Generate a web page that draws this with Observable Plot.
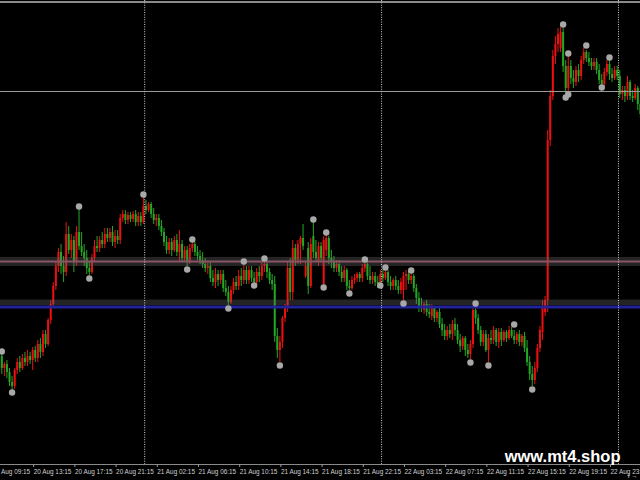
<!DOCTYPE html>
<html><head><meta charset="utf-8">
<script src="https://cdn.jsdelivr.net/npm/d3@7"></script>
<script src="https://cdn.jsdelivr.net/npm/@observablehq/plot@0.6"></script>
<style>html,body{margin:0;padding:0;background:#000;overflow:hidden}#chart svg{display:block}</style>
</head><body><div id="chart"></div>
<script>
// M15 candles, bar index 0..248
const open = [
1.1444,1.1432,1.1436,1.1428,1.1418,1.1414,1.1430,1.1438,1.1432,1.1442,
1.1438,1.1444,1.1440,1.1450,1.1442,1.1456,1.1448,1.1466,1.1456,1.1480,
1.1496,1.1514,1.1534,1.1548,1.1534,1.1528,1.1566,1.1550,1.1560,1.1538,
1.1568,1.1554,1.1548,1.1542,1.1532,1.1528,1.1542,1.1554,1.1552,1.1560,
1.1556,1.1566,1.1562,1.1568,1.1558,1.1564,1.1560,1.1582,1.1586,1.1580,
1.1585,1.1581,1.1586,1.1578,1.1584,1.1578,1.1594,1.1590,1.1596,1.1586,
1.1580,1.1582,1.1574,1.1568,1.1558,1.1550,1.1558,1.1550,1.1560,1.1548,
1.1556,1.1542,1.1550,1.1538,1.1552,1.1556,1.1548,1.1544,1.1540,1.1536,
1.1532,1.1534,1.1522,1.1518,1.1526,1.1520,1.1526,1.1512,1.1508,1.1498,
1.1510,1.1518,1.1514,1.1524,1.1520,1.1530,1.1520,1.1530,1.1522,1.1518,
1.1528,1.1524,1.1534,1.1536,1.1528,1.1520,1.1516,1.1464,1.1450,1.1458,
1.1482,1.1492,1.1532,1.1508,1.1552,1.1540,1.1556,1.1562,1.1524,1.1552,
1.1514,1.1564,1.1548,1.1538,1.1554,1.1516,1.1550,1.1562,1.1542,1.1538,
1.1532,1.1536,1.1528,1.1522,1.1530,1.1514,1.1512,1.1520,1.1522,1.1526,
1.1522,1.1532,1.1536,1.1524,1.1520,1.1524,1.1518,1.1516,1.1526,1.1522,
1.1528,1.1518,1.1514,1.1520,1.1514,1.1510,1.1510,1.1524,1.1526,1.1520,
1.1524,1.1512,1.1502,1.1494,1.1490,1.1496,1.1488,1.1484,1.1492,1.1482,
1.1488,1.1476,1.1470,1.1464,1.1470,1.1466,1.1476,1.1470,1.1460,1.1454,
1.1462,1.1450,1.1446,1.1456,1.1490,1.1482,1.1470,1.1458,1.1466,1.1450,
1.1462,1.1460,1.1470,1.1458,1.1468,1.1460,1.1468,1.1462,1.1470,1.1464,
1.1460,1.1466,1.1458,1.1464,1.1452,1.1438,1.1426,1.1420,1.1432,1.1452,
1.1468,1.1488,1.1500,1.1660,1.1704,1.1744,1.1756,1.1752,1.1768,1.1734,
1.1712,1.1734,1.1722,1.1718,1.1730,1.1724,1.1740,1.1748,1.1742,1.1738,
1.1734,1.1738,1.1730,1.1720,1.1716,1.1728,1.1736,1.1726,1.1722,1.1730,
1.1724,1.1706,1.1710,1.1704,1.1718,1.1704,1.1702,1.1712,1.1696];
const high = [
1.1447,1.1438,1.1440,1.1432,1.1424,1.1432,1.1442,1.1444,1.1446,1.1448,
1.1450,1.1448,1.1453,1.1454,1.1460,1.1462,1.1470,1.1470,1.1482,1.1500,
1.1518,1.1538,1.1552,1.1556,1.1544,1.1578,1.1574,1.1566,1.1564,1.1574,
1.1591,1.1568,1.1556,1.1550,1.1538,1.1546,1.1560,1.1564,1.1564,1.1568,
1.1572,1.1572,1.1572,1.1574,1.1570,1.1570,1.1586,1.1590,1.1590,1.1588,
1.1588,1.1589,1.1590,1.1588,1.1588,1.1603,1.1600,1.1598,1.1598,1.1592,
1.1586,1.1586,1.1580,1.1572,1.1564,1.1562,1.1562,1.1564,1.1566,1.1570,
1.1560,1.1554,1.1554,1.1556,1.1559,1.1558,1.1554,1.1550,1.1548,1.1542,
1.1538,1.1538,1.1530,1.1532,1.1530,1.1530,1.1530,1.1520,1.1514,1.1514,
1.1522,1.1524,1.1530,1.1532,1.1536,1.1534,1.1534,1.1534,1.1528,1.1532,
1.1534,1.1538,1.1540,1.1540,1.1532,1.1526,1.1524,1.1472,1.1464,1.1484,
1.1496,1.1538,1.1542,1.1560,1.1556,1.1560,1.1564,1.1576,1.1538,1.1558,
1.1562,1.1579,1.1560,1.1558,1.1558,1.1564,1.1566,1.1564,1.1550,1.1544,
1.1540,1.1540,1.1534,1.1534,1.1532,1.1520,1.1524,1.1526,1.1528,1.1528,
1.1536,1.1538,1.1538,1.1534,1.1528,1.1528,1.1524,1.1530,1.1530,1.1532,
1.1530,1.1524,1.1522,1.1524,1.1520,1.1522,1.1528,1.1530,1.1530,1.1527,
1.1526,1.1516,1.1508,1.1502,1.1498,1.1500,1.1496,1.1496,1.1494,1.1490,
1.1492,1.1482,1.1476,1.1474,1.1476,1.1480,1.1482,1.1476,1.1466,1.1464,
1.1464,1.1456,1.1460,1.1494,1.1495,1.1486,1.1474,1.1470,1.1470,1.1466,
1.1470,1.1474,1.1472,1.1472,1.1472,1.1470,1.1470,1.1474,1.1473,1.1470,
1.1468,1.1470,1.1466,1.1468,1.1460,1.1444,1.1434,1.1438,1.1456,1.1474,
1.1500,1.1504,1.1670,1.1710,1.1750,1.1764,1.1772,1.1773,1.1772,1.1740,
1.1744,1.1740,1.1730,1.1734,1.1736,1.1744,1.1752,1.1750,1.1748,1.1742,
1.1742,1.1742,1.1736,1.1726,1.1732,1.1740,1.1742,1.1732,1.1734,1.1734,
1.1730,1.1714,1.1714,1.1724,1.1720,1.1710,1.1716,1.1714,1.1702];
const low = [
1.1426,1.1424,1.1422,1.1414,1.1410,1.1411,1.1426,1.1428,1.1430,1.1434,
1.1434,1.1436,1.1430,1.1438,1.1438,1.1442,1.1444,1.1452,1.1454,1.1476,
1.1492,1.1510,1.1528,1.1526,1.1518,1.1524,1.1546,1.1542,1.1528,1.1534,
1.1550,1.1544,1.1534,1.1526,1.1525,1.1526,1.1538,1.1548,1.1548,1.1552,
1.1552,1.1558,1.1558,1.1554,1.1552,1.1556,1.1556,1.1578,1.1576,1.1576,
1.1578,1.1578,1.1574,1.1574,1.1574,1.1576,1.1586,1.1588,1.1582,1.1576,
1.1574,1.1570,1.1564,1.1554,1.1546,1.1546,1.1544,1.1548,1.1544,1.1538,
1.1538,1.1538,1.1534,1.1536,1.1548,1.1544,1.1540,1.1536,1.1532,1.1528,
1.1526,1.1518,1.1514,1.1512,1.1514,1.1516,1.1508,1.1504,1.1495,1.1496,
1.1506,1.1510,1.1510,1.1514,1.1516,1.1516,1.1516,1.1518,1.1517,1.1516,
1.1518,1.1520,1.1528,1.1522,1.1516,1.1510,1.1458,1.1442,1.1438,1.1452,
1.1478,1.1488,1.1500,1.1500,1.1534,1.1536,1.1536,1.1550,1.1522,1.1506,
1.1512,1.1542,1.1538,1.1534,1.1538,1.1513,1.1544,1.1536,1.1532,1.1528,
1.1528,1.1524,1.1518,1.1518,1.1510,1.1510,1.1510,1.1516,1.1518,1.1518,
1.1518,1.1528,1.1520,1.1516,1.1516,1.1514,1.1512,1.1514,1.1518,1.1520,
1.1514,1.1510,1.1510,1.1510,1.1506,1.1506,1.1500,1.1510,1.1516,1.1516,
1.1508,1.1496,1.1488,1.1488,1.1486,1.1484,1.1482,1.1480,1.1478,1.1478,
1.1472,1.1464,1.1460,1.1460,1.1462,1.1460,1.1464,1.1456,1.1448,1.1450,
1.1444,1.1442,1.1441,1.1452,1.1476,1.1466,1.1454,1.1454,1.1448,1.1438,
1.1456,1.1456,1.1454,1.1452,1.1454,1.1458,1.1458,1.1460,1.1462,1.1456,
1.1456,1.1454,1.1454,1.1448,1.1434,1.1420,1.1414,1.1416,1.1428,1.1448,
1.1460,1.1484,1.1488,1.1654,1.1700,1.1736,1.1748,1.1748,1.1728,1.1705,
1.1708,1.1716,1.1712,1.1714,1.1718,1.1720,1.1736,1.1738,1.1734,1.1730,
1.1730,1.1726,1.1716,1.1714,1.1714,1.1724,1.1720,1.1718,1.1720,1.1720,
1.1702,1.1700,1.1698,1.1700,1.1700,1.1698,1.1700,1.1690,1.1682];
const close = [
1.1432,1.1436,1.1428,1.1418,1.1414,1.1430,1.1438,1.1432,1.1442,1.1438,
1.1444,1.1440,1.1450,1.1442,1.1456,1.1448,1.1466,1.1456,1.1480,1.1496,
1.1514,1.1534,1.1548,1.1534,1.1528,1.1566,1.1550,1.1560,1.1538,1.1568,
1.1554,1.1548,1.1542,1.1532,1.1528,1.1542,1.1554,1.1552,1.1560,1.1556,
1.1566,1.1562,1.1568,1.1558,1.1564,1.1560,1.1582,1.1586,1.1580,1.1585,
1.1581,1.1586,1.1578,1.1584,1.1578,1.1594,1.1590,1.1596,1.1586,1.1580,
1.1582,1.1574,1.1568,1.1558,1.1550,1.1558,1.1550,1.1560,1.1548,1.1556,
1.1542,1.1550,1.1538,1.1552,1.1556,1.1548,1.1544,1.1540,1.1536,1.1532,
1.1534,1.1522,1.1518,1.1526,1.1520,1.1526,1.1512,1.1508,1.1498,1.1510,
1.1518,1.1514,1.1524,1.1520,1.1530,1.1520,1.1530,1.1522,1.1518,1.1528,
1.1524,1.1534,1.1536,1.1528,1.1520,1.1516,1.1464,1.1450,1.1458,1.1482,
1.1492,1.1532,1.1508,1.1552,1.1540,1.1556,1.1562,1.1554,1.1534,1.1514,
1.1556,1.1548,1.1542,1.1554,1.1542,1.1560,1.1562,1.1542,1.1538,1.1532,
1.1536,1.1528,1.1522,1.1530,1.1514,1.1512,1.1520,1.1522,1.1526,1.1522,
1.1532,1.1536,1.1524,1.1520,1.1524,1.1518,1.1516,1.1526,1.1522,1.1528,
1.1518,1.1514,1.1520,1.1514,1.1510,1.1518,1.1524,1.1526,1.1520,1.1524,
1.1512,1.1502,1.1494,1.1492,1.1496,1.1488,1.1486,1.1492,1.1482,1.1488,
1.1476,1.1470,1.1464,1.1470,1.1466,1.1476,1.1470,1.1460,1.1454,1.1462,
1.1450,1.1446,1.1456,1.1490,1.1482,1.1470,1.1458,1.1466,1.1450,1.1462,
1.1460,1.1470,1.1458,1.1468,1.1460,1.1468,1.1462,1.1470,1.1464,1.1460,
1.1466,1.1458,1.1464,1.1452,1.1438,1.1426,1.1420,1.1432,1.1452,1.1470,
1.1494,1.1500,1.1660,1.1704,1.1744,1.1756,1.1766,1.1768,1.1734,1.1712,
1.1734,1.1722,1.1718,1.1730,1.1724,1.1740,1.1748,1.1742,1.1738,1.1734,
1.1738,1.1730,1.1720,1.1716,1.1728,1.1736,1.1726,1.1722,1.1730,1.1724,
1.1706,1.1710,1.1704,1.1718,1.1704,1.1702,1.1712,1.1696,1.1686];

// Fractal markers (bar index, price)
const fractalUpIndex = [0,30,55,74,94,102,121,126,141,149,159,184,199,218,220,227,236];
const fractalUpPrice = [1.1449,1.1594,1.1606,1.1561,1.1539,1.1542,1.1581,1.1568,1.1541,1.1533,1.1530,1.1497,1.1476,1.1776,1.1747,1.1755,1.1743];
const fractalDownIndex = [4,34,72,88,98,108,125,135,147,156,182,189,206,219,220,233];
const fractalDownPrice = [1.1408,1.1522,1.1531,1.1492,1.1515,1.1435,1.1513,1.1507,1.1515,1.1497,1.1438,1.1435,1.1411,1.1703,1.1706,1.1713];

// Horizontal levels
const topLinePrice = 1.17985;
const greyLinePrice = 1.1709;
const resistanceBand = [1.1534, 1.1543];
const resistanceLine = 1.1539;
const supportBand = [1.1495, 1.15005];
const supportLine = 1.14935;

// Day separators and time axis
const dayBreaks = [55.5, 147.5, 239.5];
const tickIndex = [-4,12,28,44,60,76,92,108,124,140,156,172,188,204,220,236];
const tickLabel = ["20 Aug 09:15","20 Aug 13:15","20 Aug 17:15","20 Aug 21:15","21 Aug 02:15","21 Aug 06:15","21 Aug 10:15","21 Aug 14:15","21 Aug 18:15","21 Aug 22:15","22 Aug 03:15","22 Aug 07:15","22 Aug 11:15","22 Aug 15:15","22 Aug 19:15","22 Aug 23:15"];
const watermark = "www.mt4.shop";

const bars = open.map((o, i) => ({i, o, h: high[i], l: low[i], c: close[i], up: close[i] >= o}));
const fracUp = fractalUpIndex.map((i, k) => ({i, p: fractalUpPrice[k]}));
const fracDown = fractalDownIndex.map((i, k) => ({i, p: fractalDownPrice[k]}));
const ticks = tickIndex.map((i, k) => ({i, label: tickLabel[k]}));
const RED = "#ee1010", GREEN = "#22a822";
const col = d => d.up ? RED : GREEN;

const chart = Plot.plot({
  width: 640, height: 480,
  marginTop: 0, marginRight: 0, marginBottom: 16, marginLeft: 0,
  style: {background: "#000", color: "#c8c8c8", fontFamily: "'Liberation Sans', Arial, sans-serif", fontSize: "6.4px"},
  x: {domain: [-0.5, 248.05], axis: null},
  y: {domain: [1.1336, 1.1800], axis: null},
  marks: [
    Plot.ruleX(bars, {x: "i", y1: "l", y2: "h", stroke: col, strokeWidth: 1}),
    Plot.ruleX(bars, {x: "i", y1: "o", y2: "c", stroke: col, strokeWidth: 2}),
    Plot.rect([resistanceBand], {y1: d => d[0], y2: d => d[1], fill: "#666", fillOpacity: 0.35}),
    Plot.rect([supportBand], {y1: d => d[0], y2: d => d[1], fill: "#666", fillOpacity: 0.35}),
    Plot.ruleY([resistanceLine], {stroke: "#8a5566", strokeWidth: 2}),
    Plot.ruleY([supportLine], {stroke: "#22229a", strokeWidth: 3}),
    Plot.ruleY([greyLinePrice], {stroke: "#9a9a9a", strokeWidth: 1}),
    Plot.ruleY([topLinePrice], {stroke: "#8a8a8a", strokeWidth: 2}),
    Plot.ruleX(dayBreaks, {stroke: "#d0d0d0", strokeWidth: 1, strokeDasharray: "1,1.4"}),
    Plot.dot(fracUp, {x: "i", y: "p", r: 3.2, fill: "#a8a8a8", stroke: "none"}),
    Plot.dot(fracDown, {x: "i", y: "p", r: 3.2, fill: "#a8a8a8", stroke: "none"}),
    Plot.frame({anchor: "bottom", stroke: "#8a8a8a"}),
    Plot.axisX(tickIndex, {tickSize: 3, tickPadding: 2, textAnchor: "start", dx: 1,
      tickFormat: d => tickLabel[tickIndex.indexOf(d)], stroke: "#9a9a9a", fill: "#d0d0d0"}),
    Plot.text([watermark], {frameAnchor: "bottom-right", dx: -20, dy: -2.5, textAnchor: "end", lineAnchor: "bottom",
      fill: "#ffffff", fontSize: 16.5, fontWeight: "bold", fontFamily: "'Liberation Sans', Arial, sans-serif"})
  ]
});
document.getElementById("chart").appendChild(chart);
</script>
</body></html>
